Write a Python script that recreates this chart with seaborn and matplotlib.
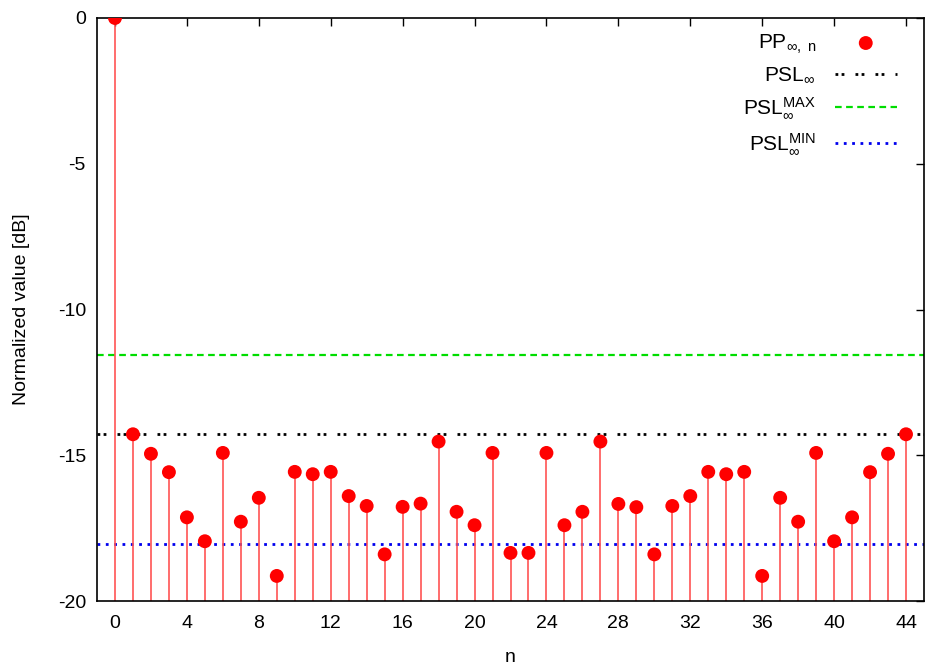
import numpy as np
import pandas as pd
import matplotlib
matplotlib.use("Agg")
import matplotlib.pyplot as plt
import seaborn as sns

n_vals = list(range(45))
pp_vals = [0.0, -14.28, -14.95, -15.58, -17.13, -17.95, -14.92, -17.28, -16.46, -19.14,
           -15.57, -15.65, -15.57, -16.40, -16.74, -18.40, -16.77, -16.66, -14.53, -16.94,
           -17.40, -14.92, -18.35, -18.35, -14.92, -17.40, -16.94, -14.53, -16.67, -16.78,
           -18.40, -16.74, -16.40, -15.57, -15.65, -15.57, -19.14, -16.46, -17.28, -14.92,
           -17.95, -17.13, -15.58, -14.95, -14.28]
psl_inf = -14.28
psl_max = -11.57
psl_min = -18.05
x_ticks = list(range(0, 45, 4))
y_ticks = [0, -5, -10, -15, -20]

sns.set_theme(style="white")
plt.rcParams['font.family'] = ['Liberation Sans', 'DejaVu Sans']
plt.rcParams['mathtext.fontset'] = 'custom'
plt.rcParams['mathtext.rm'] = 'Liberation Sans'
plt.rcParams['mathtext.it'] = 'Liberation Sans'
plt.rcParams['axes.unicode_minus'] = False
plt.rcParams['text.color'] = 'black'
plt.rcParams['axes.labelcolor'] = 'black'

df = pd.DataFrame({"n": n_vals, "pp": pp_vals})

fig = plt.figure(figsize=(9.27, 6.69), dpi=100)
ax = fig.add_axes([97/927, 1 - 601/669, (924 - 97)/927, (601 - 18)/669])

ax.vlines(df["n"], -20, df["pp"], color="#ff5050", lw=1.3, alpha=0.9, zorder=2)
sns.scatterplot(data=df, x="n", y="pp", ax=ax, color="red", s=100, edgecolor="none",
                zorder=3, label=r"PP$_{\infty,\ \mathrm{n}}$")

ax.axhline(psl_inf, color="black", lw=2, linestyle=(0, (1, 1.2, 1, 4)),
           label=r"PSL$_\infty$", zorder=1)
ax.axhline(psl_max, color="#00dd00", lw=1.6, linestyle=(0, (3, 2)),
           label=r"PSL$_\infty^{\mathrm{MAX}}$", zorder=1)
ax.axhline(psl_min, color="#0000ee", lw=2, linestyle=(0, (1, 2)),
           label=r"PSL$_\infty^{\mathrm{MIN}}$", zorder=1)

ax.set_xlim(-1, 45)
ax.set_ylim(-20, 0)
ax.set_xticks(x_ticks)
ax.set_yticks(y_ticks)
ax.tick_params(direction="in", length=6, width=1, top=True, right=True,
               labelsize=14, colors="black", labelcolor="black", pad=8)
ax.tick_params(axis="x", pad=10)
for s in ax.spines.values():
    s.set_color("black")
    s.set_linewidth(1.2)
ax.set_xlabel("n", fontsize=14, labelpad=12)
ax.set_ylabel("Normalized value [dB]", fontsize=14, labelpad=20)

leg = ax.legend(loc="upper right", frameon=False, markerfirst=False, fontsize=15,
                handlelength=3.0, handletextpad=0.9, labelspacing=0.5,
                borderaxespad=0.3, bbox_to_anchor=(0.985, 1.0))

fig.savefig("out.png", dpi=100)
